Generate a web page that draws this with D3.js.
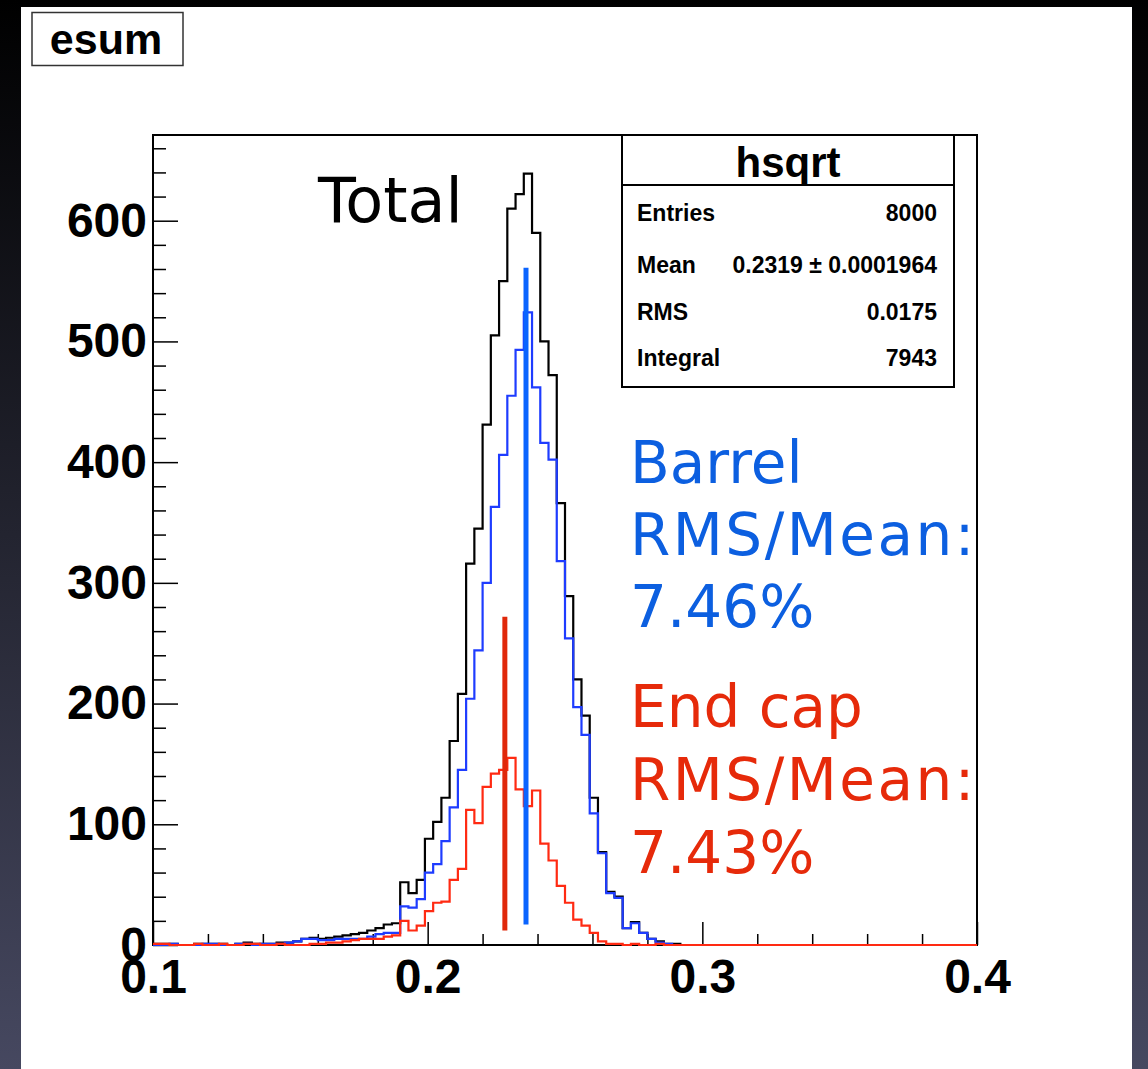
<!DOCTYPE html>
<html>
<head>
<meta charset="UTF-8" />
<title>esum</title>
<script src="https://cdn.jsdelivr.net/npm/d3@7"></script>
<style>
  body, html { margin:0; padding:0; }
  body { background:#000; }
  #chart { display:block; }
  .axis text { font: bold 48px "Liberation Sans", Arial, sans-serif; fill:#000; }
  .axis line { stroke:#000; stroke-width:1.5; }
</style>
</head>
<body>
<svg id="chart" width="1148" height="1069"></svg>
<script>
// 100 bins from 0.1 to 0.4
const nBins = 100, xMin = 0.1, xMax = 0.4;

// total (black)
const total = [
  1,1,1,0,0,1,1,1,1,0,1,2,1,1,1,2,2,
  3,5,6,5,6,7,8,9,10,12,14,17,18,
  52,43,54,88,102,122,169,208,316,345,431,505,550,610,622,639,590,500,472,366,289,220,190,122,77,
  44,40,14,19,10,5,3,1,1
];
// barrel (blue)
const barrel = [
  0,0,1,0,0,0,1,1,0,0,1,1,0,1,1,1,2,
  3,5,5,4,4,5,5,5,5,7,9,10,10,
  32,31,38,60,67,86,114,145,204,244,300,363,406,455,493,524,462,416,402,318,254,197,174,109,76,
  43,39,14,18,10,5,2,1
];
// end cap (red)
const endcap = [
  1,1,0,0,0,1,0,0,1,0,0,1,1,0,0,1,0,
  0,0,1,1,2,2,3,4,5,5,5,7,8,
  20,12,16,28,35,36,54,63,112,101,131,142,145,155,129,115,128,84,70,49,35,21,16,10,3,
  1,1,0,1,0,0,1
];

// mean markers: [x, yLow, yHigh]
const barrelMark = [0.2358, 17, 561];
const endcapMark = [0.2281, 12, 272];

const xTicks = [0.1, 0.2, 0.3, 0.4];
const yTicks = [0, 100, 200, 300, 400, 500, 600];

const statsLabels = ["Entries", "Mean", "RMS", "Integral"];
const statsValues = ["8000", "0.2319 \u00b1 0.0001964", "0.0175", "7943"];

const barrelText = ["Barrel", "RMS/Mean:", "7.46%"];
const endcapText = ["End cap", "RMS/Mean:", "7.43%"];

const svg = d3.select('#chart');

// dark backdrop + white canvas
const defs = svg.append('defs');
const grad = defs.append('linearGradient').attr('id', 'bg')
  .attr('x1', 0).attr('y1', 0).attr('x2', 0).attr('y2', 1);
grad.append('stop').attr('offset', '0%').attr('stop-color', '#000000');
grad.append('stop').attr('offset', '100%').attr('stop-color', '#464860');
svg.append('rect').attr('width', 1148).attr('height', 1069).attr('fill', 'url(#bg)');
svg.append('rect').attr('x', 21).attr('y', 7).attr('width', 1111).attr('height', 1070).attr('fill', '#fff');

// title box
svg.append('rect').attr('x', 32).attr('y', 12.5).attr('width', 151).attr('height', 53)
  .attr('fill', '#fff').attr('stroke', '#333').attr('stroke-width', 1.5);
svg.append('text').attr('x', 106).attr('y', 54).attr('text-anchor', 'middle')
  .style('font', 'bold 43px "Liberation Sans", Arial, sans-serif').text('esum');

const x = d3.scaleLinear().domain([xMin, xMax]).range([153, 977]);
const y = d3.scaleLinear().domain([0, 671]).range([945, 135]);
const binW = (xMax - xMin) / nBins;

// axes (ticks point inward)
svg.append('g').attr('class', 'axis').attr('transform', 'translate(153,0)')
  .call(d3.axisLeft(y).tickValues(yTicks).tickSizeInner(-25).tickSizeOuter(0).tickPadding(6));
svg.append('g').attr('class', 'axis').attr('transform', 'translate(153,0)')
  .call(d3.axisLeft(y).tickValues(d3.range(0, 671, 20).filter(v => v % 100 !== 0))
    .tickSizeInner(-13).tickSizeOuter(0).tickFormat(''));
svg.append('g').attr('class', 'axis').attr('transform', 'translate(0,945)')
  .call(d3.axisBottom(x).tickValues(xTicks).tickFormat(d3.format('.1f'))
    .tickSizeInner(-23).tickSizeOuter(0).tickPadding(14));
svg.append('g').attr('class', 'axis').attr('transform', 'translate(0,945)')
  .call(d3.axisBottom(x).tickValues(d3.range(0.12, 0.399, 0.02).filter(v => Math.abs(v * 10 - Math.round(v * 10)) > 1e-6))
    .tickSizeInner(-11).tickSizeOuter(0).tickFormat(''));
svg.selectAll('.axis .domain').remove();

// frame
svg.append('rect').attr('x', 153).attr('y', 135).attr('width', 824).attr('height', 810)
  .attr('fill', 'none').attr('stroke', '#000').attr('stroke-width', 2);

// step outlines
const step = d3.line().x(d => x(d[0])).y(d => y(d[1])).curve(d3.curveStepAfter);
function pts(vals) {
  const p = d3.range(nBins).map(i => [xMin + i * binW, vals[i] || 0]);
  p.push([xMax, vals[nBins - 1] || 0]);
  return p;
}
[[total, '#000'], [barrel, '#1e3cff'], [endcap, '#ff2a12']].forEach(([vals, c]) => {
  svg.append('path').attr('d', step(pts(vals)))
    .attr('fill', 'none').attr('stroke', c).attr('stroke-width', 2.2);
});

// mean markers
[[endcapMark, '#e0280a'], [barrelMark, '#0a64ff']].forEach(([m, c]) => {
  svg.append('line').attr('x1', x(m[0])).attr('x2', x(m[0]))
    .attr('y1', y(m[1])).attr('y2', y(m[2]))
    .attr('stroke', c).attr('stroke-width', 5);
});

// stats box
const sb = svg.append('g');
sb.append('rect').attr('x', 622).attr('y', 135).attr('width', 332).attr('height', 252)
  .attr('fill', '#fff').attr('stroke', '#000').attr('stroke-width', 2);
sb.append('line').attr('x1', 622).attr('x2', 954).attr('y1', 185).attr('y2', 185)
  .attr('stroke', '#000').attr('stroke-width', 2);
sb.append('text').attr('x', 788).attr('y', 177).attr('text-anchor', 'middle')
  .style('font', 'bold 42px "Liberation Sans", Arial, sans-serif').text('hsqrt');
const rowY = [221, 273, 320, 366];
statsLabels.forEach((s, i) => {
  sb.append('text').attr('x', 637).attr('y', rowY[i])
    .style('font', 'bold 23px "Liberation Sans", Arial, sans-serif').text(s);
  sb.append('text').attr('x', 937).attr('y', rowY[i]).attr('text-anchor', 'end')
    .style('font', 'bold 23px "Liberation Sans", Arial, sans-serif').text(statsValues[i]);
});

// annotations
svg.append('text').attr('x', 318).attr('y', 222)
  .style('font', '62px "DejaVu Sans", sans-serif').attr('fill', '#000').text('Total');
function block(lines, y0, dy, color) {
  lines.forEach((s, i) => {
    svg.append('text').attr('x', 630).attr('y', y0 + i * dy)
      .style('font', '58px "DejaVu Sans", sans-serif')
      .style('letter-spacing', s.startsWith('RMS') ? '2.5px' : '0px')
      .attr('fill', color).text(s);
  });
}
block(barrelText, 483, 72, '#0c5fe0');
block(endcapText, 727, 73, '#e62a0a');
</script>
</body>
</html>
